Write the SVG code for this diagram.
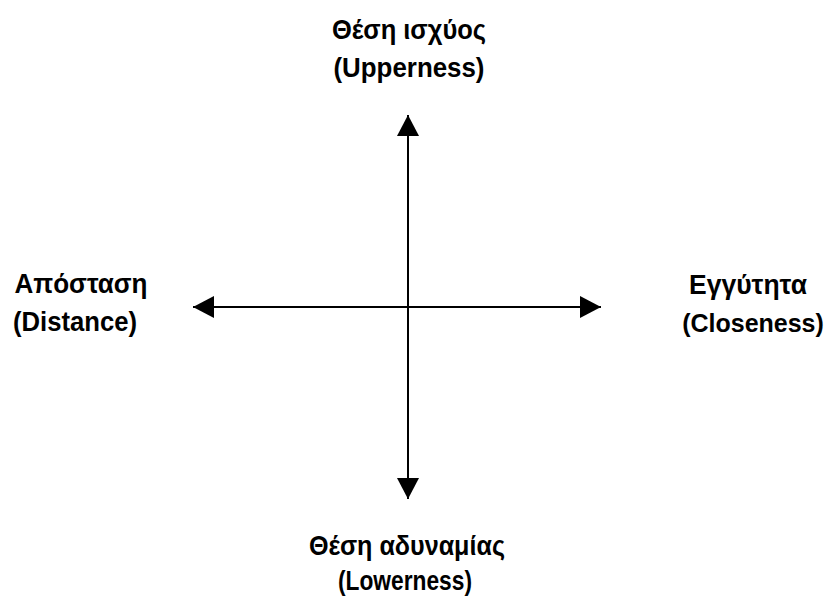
<svg xmlns="http://www.w3.org/2000/svg" width="828" height="596" viewBox="0 0 828 596">
<style>
.lbl{font-family:"Liberation Sans",Arial,sans-serif;font-weight:bold;font-size:28px;fill:#000;text-anchor:middle}
.ax{stroke:#000;stroke-width:2;fill:none}
</style>
<defs>
<marker id="ah" viewBox="0 0 21 22" refX="21" refY="11" markerWidth="21" markerHeight="22" markerUnits="userSpaceOnUse" orient="auto">
<path d="M0,0 L21,11 L0,22 Z" fill="#000"/>
</marker>
</defs>
<rect width="828" height="596" fill="#fff"/>
<g id="connectors">
<line class="ax" x1="408" y1="307" x2="408" y2="115" marker-end="url(#ah)"/>
<line class="ax" x1="408" y1="307" x2="408" y2="499" marker-end="url(#ah)"/>
<line class="ax" x1="408" y1="307" x2="193" y2="307" marker-end="url(#ah)"/>
<line class="ax" x1="408" y1="307" x2="601" y2="307" marker-end="url(#ah)"/>
</g>
<g id="top">
<text class="lbl" x="409" y="39" textLength="154" lengthAdjust="spacingAndGlyphs">Θέση ισχύος</text>
<text class="lbl" x="409" y="77" textLength="151" lengthAdjust="spacingAndGlyphs">(Upperness)</text>
</g>
<g id="left">
<text class="lbl" x="81" y="293" textLength="133" lengthAdjust="spacingAndGlyphs">Απόσταση</text>
<text class="lbl" x="75" y="331" textLength="124" lengthAdjust="spacingAndGlyphs">(Distance)</text>
</g>
<g id="right">
<text class="lbl" x="748" y="294" textLength="118" lengthAdjust="spacingAndGlyphs">Εγγύτητα</text>
<text class="lbl" x="753" y="332" style="font-size:25px">(Closeness)</text>
</g>
<g id="bottom">
<text class="lbl" x="407" y="555" textLength="196" lengthAdjust="spacingAndGlyphs">Θέση αδυναμίας</text>
<text class="lbl" x="405" y="590" textLength="134" lengthAdjust="spacingAndGlyphs">(Lowerness)</text>
</g>
</svg>
